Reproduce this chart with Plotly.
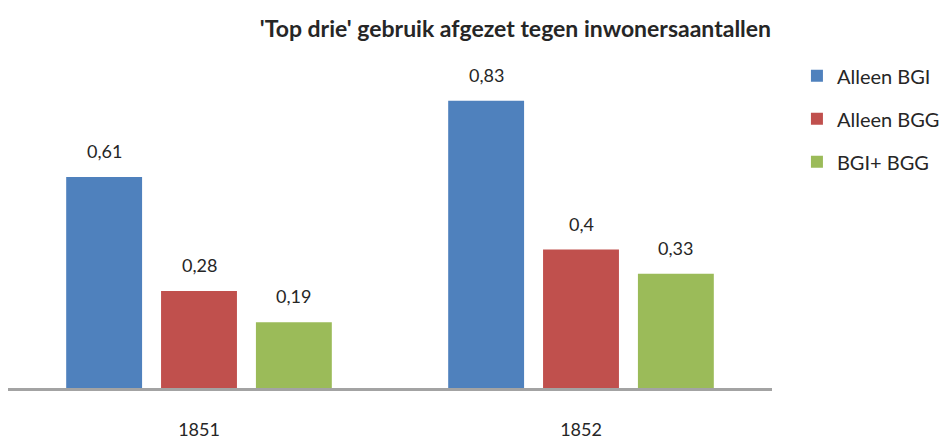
import plotly.graph_objects as go

years = ["1851", "1852"]
series_names = ["Alleen BGI", "Alleen BGG", "BGI+ BGG"]
alleen_bgi = [0.61, 0.83]
alleen_bgg = [0.28, 0.40]
bgi_bgg = [0.19, 0.33]
colors = ["#4F81BD", "#C0504D", "#9BBB59"]

FONT = "Lato"
TEXT_COLOR = "#262626"
BARGAP = 0.255
GROUPGAP = 0.2


def fmt(v):
    return f"{v:g}".replace(".", ",")


all_series = [alleen_bgi, alleen_bgg, bgi_bgg]
fig = go.Figure()
for name, vals, col in zip(series_names, all_series, colors):
    fig.add_trace(go.Bar(
        x=years, y=vals, name=name, legendgroup=name,
        marker=dict(color=col, line=dict(width=0)),
    ))

# value labels above each bar, placed at the bar's slot within its group
slot = (1 - BARGAP) / len(all_series)
for k, vals in enumerate(all_series):
    for i, v in enumerate(vals):
        fig.add_annotation(
            x=i + (k - (len(all_series) - 1) / 2) * slot, y=v,
            xref="x", yref="y", text=fmt(v), showarrow=False,
            yanchor="middle", yshift=26,
            font=dict(family=FONT, size=18, color=TEXT_COLOR),
        )

fig.update_layout(
    width=951, height=439,
    margin=dict(l=8, r=179, t=60, b=51),
    paper_bgcolor="white", plot_bgcolor="white",
    barmode="group", bargap=BARGAP, bargroupgap=GROUPGAP,
    title=dict(
        text="<b>'Top drie' gebruik afgezet tegen inwonersaantallen</b>",
        x=0.542, xanchor="center", y=0.935, yanchor="middle",
        font=dict(family=FONT, size=23, color=TEXT_COLOR),
    ),
    xaxis=dict(
        showline=True, linecolor="#A3A3A3", linewidth=3,
        showgrid=False, ticks="", ticklabelstandoff=23, automargin=False,
        tickfont=dict(family=FONT, size=18, color=TEXT_COLOR),
    ),
    yaxis=dict(range=[0, 0.948], visible=False, showgrid=False,
               zeroline=False, automargin=False),
    legend=dict(
        xref="container", yref="container", x=0.838, y=0.872,
        xanchor="left", yanchor="top",
        traceorder="grouped", tracegroupgap=14,
        font=dict(family=FONT, size=20, color=TEXT_COLOR),
    ),
    showlegend=True,
)

fig.write_html("out.html")
